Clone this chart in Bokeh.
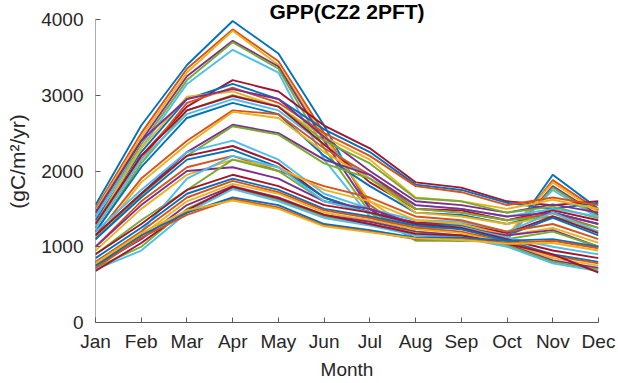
from bokeh.plotting import figure
from bokeh.models import Range1d, FixedTicker
from bokeh.core.properties import value
from bokeh.embed import file_html
from bokeh.resources import INLINE

months = ["Jan", "Feb", "Mar", "Apr", "May", "Jun", "Jul", "Aug", "Sep", "Oct", "Nov", "Dec"]
yticks = [0, 1000, 2000, 3000, 4000]
title_text = "GPP(CZ2 2PFT)"

# high-peak group (Apr ~3600-4000)
group_a = [
    [1550, 2600, 3400, 3980, 3550, 2600, 1500, 1100, 1080, 1100, 1950, 1500],
    [1500, 2500, 3350, 3870, 3450, 2500, 1550, 1150, 1120, 1120, 1880, 1480],
    [1480, 2450, 3300, 3850, 3400, 2450, 1600, 1200, 1150, 1150, 1850, 1450],
    [1450, 2400, 3250, 3720, 3380, 2400, 1500, 1100, 1100, 1100, 1800, 1420],
    [1400, 2350, 3200, 3700, 3350, 2300, 1450, 1080, 1080, 1100, 1780, 1400],
    [1400, 2300, 3150, 3600, 3300, 2150, 1400, 1100, 1100, 1120, 1750, 1380],
]
# Apr ~2800-3200
group_b = [
    [1300, 2200, 2850, 3200, 3050, 2600, 2300, 1850, 1780, 1600, 1550, 1600],
    [1350, 2250, 2950, 3150, 2950, 2550, 2250, 1820, 1750, 1580, 1500, 1580],
    [1250, 2150, 2900, 3100, 2900, 2500, 2200, 1800, 1720, 1550, 1650, 1550],
    [1300, 2300, 2980, 3050, 2850, 2450, 2150, 1650, 1600, 1500, 1620, 1500],
    [1450, 2400, 2950, 3080, 2950, 2450, 2000, 1600, 1550, 1450, 1560, 1450],
    [1200, 2100, 2800, 3000, 2850, 2400, 2100, 1640, 1600, 1450, 1530, 1380],
    [1250, 2150, 2750, 2950, 2800, 2350, 1900, 1550, 1500, 1400, 1500, 1400],
    [1300, 2200, 2800, 2990, 2850, 2350, 1850, 1500, 1480, 1350, 1480, 1350],
    [1200, 2050, 2700, 2900, 2750, 2200, 1800, 1450, 1420, 1300, 1450, 1300],
    [1150, 1900, 2400, 2800, 2750, 2300, 1950, 1500, 1450, 1350, 1440, 1250],
    [1100, 1850, 2350, 2780, 2700, 2250, 1900, 1450, 1400, 1300, 1400, 1200],
]
# Apr ~2600
group_c = [
    [1150, 1700, 2250, 2610, 2500, 2150, 1950, 1550, 1500, 1400, 1450, 1300],
    [1100, 1680, 2200, 2590, 2480, 2100, 1900, 1500, 1450, 1350, 1400, 1250],
]
# Apr ~2050-2400
group_d = [
    [1200, 1750, 2250, 2400, 2150, 1700, 1500, 1350, 1330, 1200, 1450, 1200],
    [1150, 1700, 2200, 2330, 2100, 1650, 1450, 1320, 1300, 1180, 1400, 1180],
    [1100, 1650, 2150, 2280, 2050, 1650, 1450, 1300, 1280, 1150, 1380, 1150],
    [1000, 1600, 2050, 2200, 2000, 1800, 1650, 1400, 1350, 1200, 1300, 1100],
    [950, 1500, 1950, 2150, 2050, 1750, 1600, 1350, 1300, 1150, 1250, 1050],
    [1000, 1550, 2000, 2050, 1900, 1600, 1500, 1300, 1250, 1150, 1220, 1000],
    [900, 1350, 1750, 2150, 2000, 1600, 1450, 1250, 1250, 1100, 1200, 1000],
    [800, 1200, 1900, 2200, 2050, 1600, 1450, 1280, 1260, 1120, 1000, 900],
]
# Apr ~1750-1950
group_e = [
    [900, 1300, 1750, 1950, 1800, 1550, 1450, 1300, 1250, 1100, 950, 850],
    [850, 1250, 1700, 1900, 1750, 1500, 1400, 1280, 1230, 1080, 900, 800],
    [800, 1200, 1650, 1870, 1720, 1480, 1380, 1250, 1200, 1060, 880, 780],
    [780, 1150, 1600, 1830, 1700, 1450, 1350, 1230, 1180, 1050, 850, 750],
    [750, 1100, 1550, 1800, 1650, 1420, 1330, 1200, 1150, 1030, 820, 720],
    [720, 1000, 1500, 1780, 1620, 1400, 1300, 1180, 1130, 1020, 800, 700],
    [700, 950, 1450, 1760, 1600, 1380, 1280, 1150, 1120, 1000, 780, 680],
    [680, 1050, 1480, 1790, 1640, 1420, 1300, 1170, 1150, 1040, 900, 660],
]
# Apr ~1600-1650
group_f = [
    [750, 1150, 1450, 1650, 1550, 1300, 1220, 1120, 1120, 1080, 1100, 1000],
    [720, 1120, 1420, 1630, 1520, 1280, 1200, 1100, 1100, 1050, 1080, 980],
    [780, 1180, 1480, 1610, 1500, 1270, 1190, 1110, 1090, 1040, 1050, 950],
]

colors = ["#0072BD", "#D95319", "#EDB120", "#7E2F8E", "#77AC30", "#4DBEEE", "#A2142F"]
FONT = "Liberation Sans"
TXT = "#262626"
AX = "#5a5a5a"

# frame reaches the top of the canvas; the 0..4000 axis occupies the lower 303 px of 322
y_top = yticks[-1] * 322.0 / 303.0
p = figure(width=618, height=383, output_backend="svg", toolbar_location=None,
           x_range=Range1d(1, 12), y_range=Range1d(0, y_top),
           min_border_left=95, min_border_right=20, min_border_top=0, min_border_bottom=61)
p.outline_line_color = None
p.grid.visible = False
p.background_fill_color = "white"
p.border_fill_color = "white"

x = list(range(1, 13))
series = group_a + group_b + group_c + group_d + group_e + group_f
for i, s in enumerate(series):
    p.line(x, s, line_color=colors[i % 7], line_width=1.9)

for ax in (p.xaxis[0], p.yaxis[0]):
    ax.axis_line_color = AX
    ax.major_tick_line_color = AX
    ax.major_tick_in = 5
    ax.major_tick_out = 0
    ax.minor_tick_line_color = None
    ax.major_label_text_font = FONT
    ax.major_label_text_color = TXT
    ax.axis_label_text_font = FONT
    ax.axis_label_text_color = TXT
    ax.axis_label_text_font_style = "normal"

p.xaxis.ticker = FixedTicker(ticks=x)
p.xaxis.major_label_overrides = {i + 1: m for i, m in enumerate(months)}
p.xaxis.major_label_text_font_size = "19px"
p.xaxis.major_label_standoff = 8
p.xaxis.axis_label = "Month"
p.xaxis.axis_label_text_font_size = "19px"
p.xaxis.axis_label_standoff = 4

# y axis: own line that stops at the top tick (4000)
p.yaxis.axis_line_color = None
p.segment(x0=[x[0]], y0=[yticks[0]], x1=[x[0]], y1=[yticks[-1]], line_color=AX, line_width=1)
p.yaxis.ticker = FixedTicker(ticks=yticks)
p.yaxis.major_label_text_font_size = "19px"
p.yaxis.major_label_standoff = 12
p.yaxis.axis_label = "(gC/m²/yr)"
p.yaxis.axis_label_text_font_size = "21px"
p.yaxis.axis_label_standoff = 9

# title right at the top edge (kept fully visible)
title_y = yticks[-1] * 311.0 / 303.0
p.text(x=[(x[0] + x[-1]) / 2.0], y=[title_y], text=[title_text],
       text_font=value(FONT), text_font_size="21px", text_font_style="bold",
       text_color="black", text_align="center", text_baseline="alphabetic")

open("out.html", "w").write(file_html(p, INLINE))
